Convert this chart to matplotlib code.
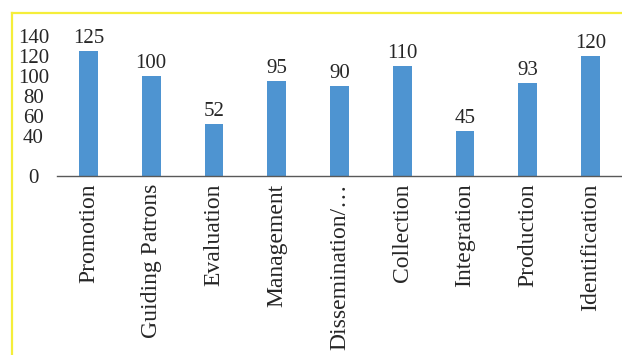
import matplotlib
matplotlib.use("Agg")
import matplotlib.pyplot as plt
from matplotlib.lines import Line2D

categories = ["Promotion", "Guiding Patrons", "Evaluation", "Management",
              "Dissemination/\u2026", "Collection", "Integration", "Production",
              "Identification"]
values = [125, 100, 52, 95, 90, 110, 45, 93, 120]
ytick_values = [0, 40, 60, 80, 100, 120, 140]

W, H = 622, 355
fig = plt.figure(figsize=(W / 100, H / 100), dpi=100)
fig.patch.set_facecolor("white")

# axes placed in pixel terms: x from 57 to 622, zero line at y=176, 150 units ~ 150 px
left, right = 57, 622
zero_y, top_y = 176, 26
ax = fig.add_axes([left / W, (H - zero_y) / H, (right - left) / W, (zero_y - top_y) / H])
ax.set_facecolor("none")

font = "Liberation Serif"
x = range(len(categories))
ax.bar(x, values, width=0.30, color="#4E94D1", zorder=2)
for xi, v in zip(x, values):
    ax.annotate(str(v), (xi, v), xytext=(0, 2), textcoords="offset points",
                ha="center", va="bottom", fontsize=15, family=font, color="#262626")

ax.set_xlim(-0.5, len(categories) - 0.5)
ax.set_ylim(0, 150)
ax.set_xticks(list(x))
ax.set_xticklabels(categories, rotation=90, fontsize=17, family=font,
                   color="#262626", ha="center", va="top")
ax.set_yticks(ytick_values)
ax.set_yticklabels([str(v) for v in ytick_values], fontsize=15, family=font,
                   color="#262626", ha="center")
ax.tick_params(axis="y", length=0, pad=17)
ax.tick_params(axis="x", length=0, pad=5.5)

for s in ("left", "right", "top"):
    ax.spines[s].set_visible(False)
ax.spines["bottom"].set_color("#595959")
ax.spines["bottom"].set_linewidth(1.0)
ax.spines["bottom"].set_zorder(3)

# yellow frame along the top and left edges
fx, fy = 11.5 / W, 1 - 12.5 / H
fig.add_artist(Line2D([fx, 1.0], [fy, fy], transform=fig.transFigure,
                      color="#F5EE3A", linewidth=1.6))
fig.add_artist(Line2D([fx, fx], [0.0, fy], transform=fig.transFigure,
                      color="#F5EE3A", linewidth=1.6))

fig.savefig("out.png", dpi=100)
